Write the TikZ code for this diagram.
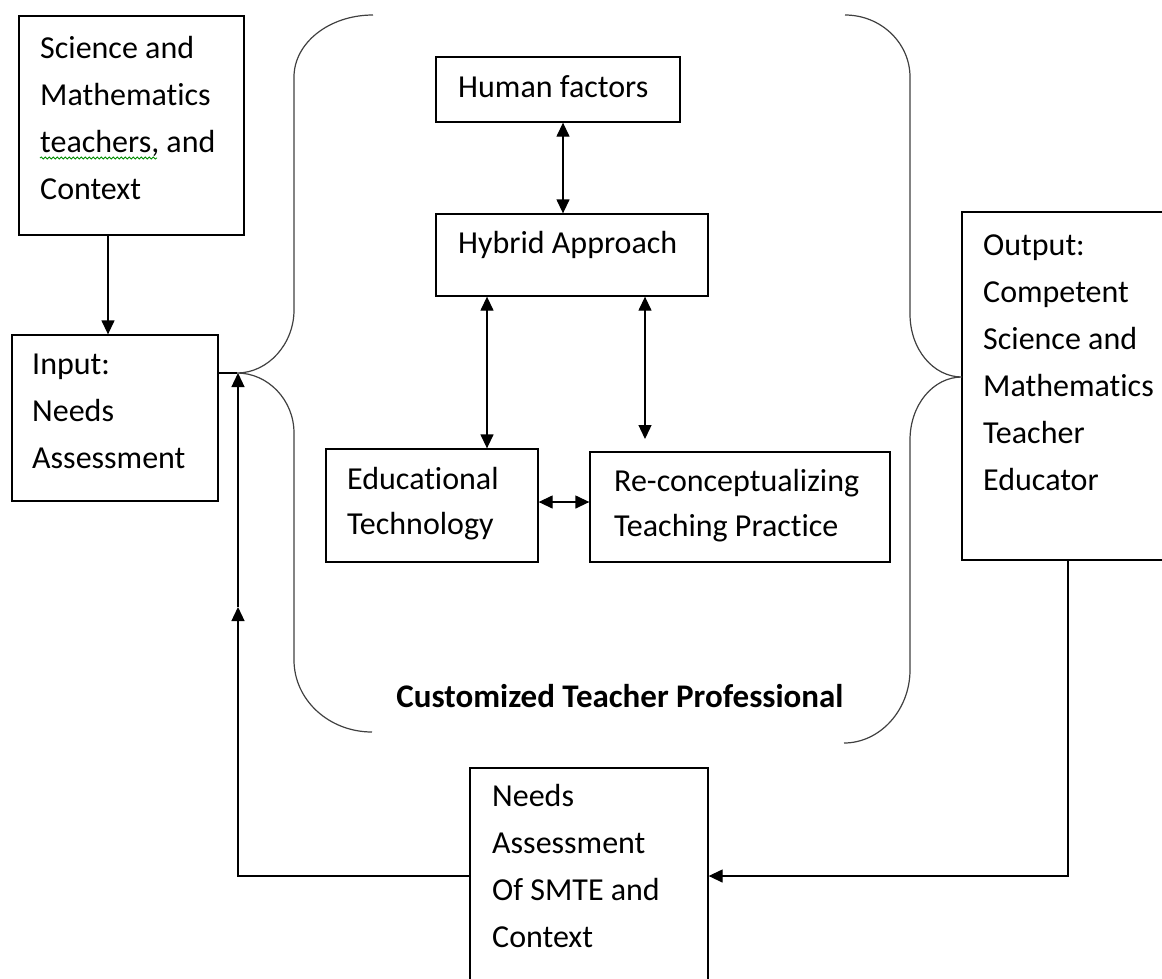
\documentclass[tikz,border=0pt]{standalone}
\usepackage{fontspec}
\setmainfont{Carlito}[Ligatures=NoCommon]
\usetikzlibrary{arrows.meta,decorations.pathmorphing}
\newcommand\mylines[1]{\begin{tabular}[t]{@{}l@{}}#1\end{tabular}}
\begin{document}
\begin{tikzpicture}[x=1pt,y=-1pt,
  box/.style={draw=black, line width=1.3pt, inner sep=0pt},
  txt/.style={anchor=base west, inner sep=0pt, text=black, font=\fontsize{32}{47}\selectfont},
  txts/.style={anchor=base west, inner sep=0pt, text=black, font=\fontsize{32}{45.5}\selectfont},
  arr/.style={line width=1.3pt, -{Triangle[length=14pt,width=13pt]}},
  darr/.style={line width=1.3pt, {Triangle[length=14pt,width=13pt]}-{Triangle[length=14pt,width=13pt]}},
  plainline/.style={line width=1.3pt},
  brace/.style={draw=black!75, line width=1.2pt}]
\useasboundingbox (0,0) rectangle (1162,978);

% boxes
\node[box, minimum width=225pt, minimum height=219pt] (sci) at (131.5,125.5) {};
\node[box, minimum width=206pt, minimum height=166pt] (inp) at (115,418) {};
\node[box, minimum width=244pt, minimum height=65pt] (hf) at (558,89.5) {};
\node[box, minimum width=272pt, minimum height=82pt] (ha) at (572,255) {};
\node[box, minimum width=212pt, minimum height=113pt] (et) at (432,505.5) {};
\node[box, minimum width=300pt, minimum height=110pt] (rc) at (740,507) {};
\node[box, minimum width=208pt, minimum height=348pt] (out) at (1066,386) {};
\node[box, minimum width=238pt, minimum height=222pt] (nb) at (589,879) {};

% texts
\node[txt] (scit) at (40,58) {\mylines{Science and\\Mathematics\\teachers, and\\Context}};
\node[txt] (inpt) at (32,374) {\mylines{Input:\\Needs\\Assessment}};
\node[txt] (outt) at (983,255) {\mylines{Output:\\Competent\\Science and\\Mathematics\\Teacher\\Educator}};
\node[txt] (nbt) at (492,806) {\mylines{Needs\\Assessment\\Of SMTE and\\Context}};
\node[txt] (hft) at (458,97) {Human factors};
\node[txt] (hat) at (458,253) {Hybrid Approach};
\node[txts] (ett) at (347,489) {\mylines{Educational\\Technology}};
\node[txts] (rct) at (614,491) {\mylines{Re-conceptualizing\\Teaching Practice}};
\node[anchor=base, inner sep=0pt, font=\fontsize{33}{38}\selectfont\bfseries] (ctp) at (620,707) {Customized Teacher Professional};

% spell-check underline
\draw[green!55!black, line width=0.8pt, decorate, decoration={snake, amplitude=1.1pt, segment length=4pt}] (40,158) -- (157,158);

% braces
\coordinate (tipL) at (237,373);
\coordinate (tipR) at (962,377);
\draw[brace] (373,15) .. controls (329,15) and (294,43) .. (294,77) -- (294,310)
  .. controls (294,344) and (268,373) .. (tipL)
  .. controls (268,373) and (294,400) .. (294,433) -- (294,660)
  .. controls (294,700) and (329,732) .. (372,732);
\draw[brace] (845,15) .. controls (881,15) and (910,43) .. (910,77) -- (910,314)
  .. controls (910,349) and (933,377) .. (tipR)
  .. controls (933,377) and (910,405) .. (910,440) -- (910,670)
  .. controls (910,710) and (880,743) .. (844,743);

% connectors
\coordinate (xA) at (108,0);
\draw[arr] (sci.south -| xA) -- (inp.north -| xA);
\draw[plainline] (inp.east |- tipL) -- (tipL);

\coordinate (xHF) at (563,0);
\draw[darr] (hf.south -| xHF) -- (ha.north -| xHF);
\coordinate (xET) at (487,0);
\draw[darr] (ha.south -| xET) -- (et.north -| xET);
\coordinate (rcEnd) at (645,439);
\draw[darr] (ha.south -| rcEnd) -- (rcEnd);
\coordinate (yER) at (0,502);
\draw[darr] (et.east |- yER) -- (rc.west |- yER);

\coordinate (xO) at (1068,876);
\draw[arr] (out.south -| xO) -- (xO) -- (nb.east |- xO);

\coordinate (fbC) at (238,876);
\coordinate (fbM) at (238,607);
\coordinate (fbT) at (238,373);
\draw[arr] (nb.west |- fbC) -- (fbC) -- (fbM);
\draw[arr] (fbM) -- (fbT);
\end{tikzpicture}
\end{document}
